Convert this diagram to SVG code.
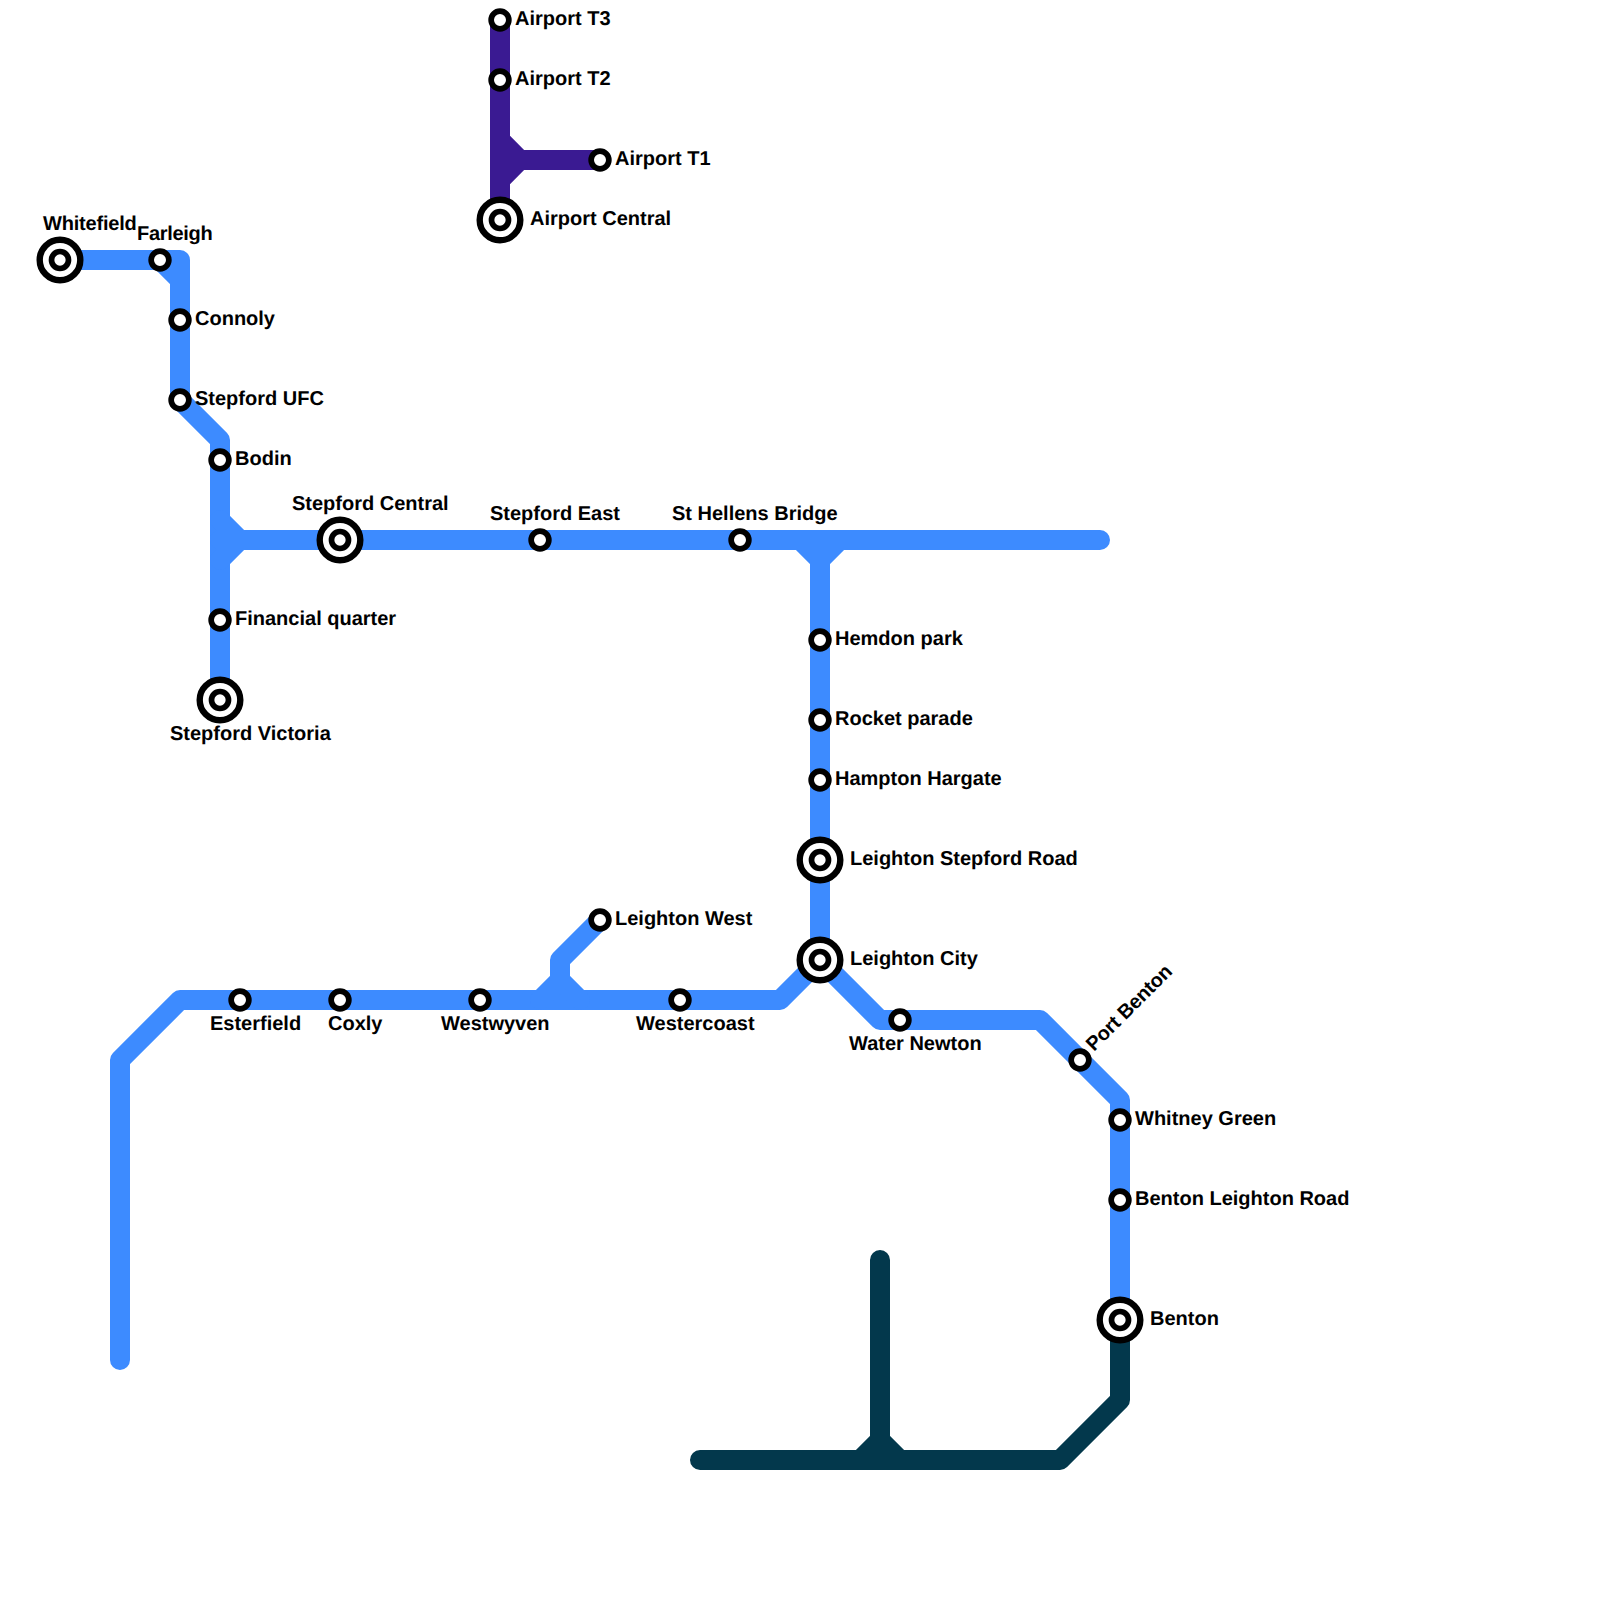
<svg xmlns="http://www.w3.org/2000/svg" width="1600" height="1600" viewBox="0 0 1600 1600">
<style>
.l{fill:none;stroke-width:20;stroke-linecap:round;stroke-linejoin:round}
.b{stroke:#3d8bff}.p{stroke:#3a1a92}.d{stroke:#03384c}
.o{fill:#fff;stroke:#000;stroke-width:5.7}
.r{fill:#fff;stroke:#000;stroke-width:6.4}
text{font-family:"Liberation Sans",Arial,sans-serif;font-weight:700;font-size:20px;fill:#000;text-rendering:geometricPrecision}
</style>
<defs>
<g id="s"><circle class="o" r="8.85"/></g>
<g id="i"><circle class="r" r="20.3"/><circle class="o" r="8.5"/></g>
</defs>
<rect width="1600" height="1600" fill="#fff"/>
<g id="connectors">
<path class="l b" d="M60 260H180V400L220 440V700M160 260L180 280"/>
<path class="l b" d="M220 540H1100M220 520L240 540L220 560M800 540L820 560L840 540M820 560V960"/>
<path class="l b" d="M120 1360V1060L180 1000H780L820 960L880 1020H1040L1120 1100V1320"/>
<path class="l b" d="M600 920L560 960V980M540 1000L560 980L580 1000"/>
<path class="l p" d="M500 20V220M500 140L520 160L500 180M500 160H600"/>
<path class="l d" d="M1120 1320V1400L1060 1460H700M880 1260V1460M860 1460L880 1440L900 1460"/>
</g>
<g id="airport-t3"><use href="#s" x="500" y="20"/><text x="515" y="25">Airport T3</text></g>
<g id="airport-t2"><use href="#s" x="500" y="80"/><text x="515" y="85">Airport T2</text></g>
<g id="airport-t1"><use href="#s" x="600" y="160"/><text x="615" y="165">Airport T1</text></g>
<g id="airport-central"><use href="#i" x="500" y="220"/><text x="530" y="225">Airport Central</text></g>
<g id="whitefield"><use href="#i" x="60" y="260"/><text x="43" y="229.5" letter-spacing="-0.2">Whitefield</text></g>
<g id="farleigh"><use href="#s" x="160" y="260"/><text x="137" y="239.5" letter-spacing="-0.3">Farleigh</text></g>
<g id="connoly"><use href="#s" x="180" y="320"/><text x="195" y="325">Connoly</text></g>
<g id="stepford-ufc"><use href="#s" x="180" y="400"/><text x="195" y="405">Stepford UFC</text></g>
<g id="bodin"><use href="#s" x="220" y="460"/><text x="235" y="465">Bodin</text></g>
<g id="stepford-central"><use href="#i" x="340" y="540"/><text x="292" y="510">Stepford Central</text></g>
<g id="stepford-east"><use href="#s" x="540" y="540"/><text x="490" y="520">Stepford East</text></g>
<g id="st-hellens-bridge"><use href="#s" x="740" y="540"/><text x="672" y="520">St Hellens Bridge</text></g>
<g id="financial-quarter"><use href="#s" x="220" y="620"/><text x="235" y="625">Financial quarter</text></g>
<g id="stepford-victoria"><use href="#i" x="220" y="700"/><text x="170" y="740">Stepford Victoria</text></g>
<g id="hemdon-park"><use href="#s" x="820" y="640"/><text x="835" y="645">Hemdon park</text></g>
<g id="rocket-parade"><use href="#s" x="820" y="720"/><text x="835" y="725">Rocket parade</text></g>
<g id="hampton-hargate"><use href="#s" x="820" y="780"/><text x="835" y="785">Hampton Hargate</text></g>
<g id="leighton-stepford-road"><use href="#i" x="820" y="860"/><text x="850" y="865">Leighton Stepford Road</text></g>
<g id="leighton-city"><use href="#i" x="820" y="960"/><text x="850" y="965">Leighton City</text></g>
<g id="leighton-west"><use href="#s" x="600" y="920"/><text x="615" y="925">Leighton West</text></g>
<g id="esterfield"><use href="#s" x="240" y="1000"/><text x="210" y="1030">Esterfield</text></g>
<g id="coxly"><use href="#s" x="340" y="1000"/><text x="328" y="1030">Coxly</text></g>
<g id="westwyven"><use href="#s" x="480" y="1000"/><text x="441" y="1030">Westwyven</text></g>
<g id="westercoast"><use href="#s" x="680" y="1000"/><text x="636" y="1030">Westercoast</text></g>
<g id="water-newton"><use href="#s" x="900" y="1020"/><text x="849" y="1050">Water Newton</text></g>
<g id="port-benton"><use href="#s" x="1080" y="1060"/><text transform="translate(1094 1052) rotate(-45)" letter-spacing="-0.2">Port Benton</text></g>
<g id="whitney-green"><use href="#s" x="1120" y="1120"/><text x="1135" y="1125">Whitney Green</text></g>
<g id="benton-leighton-road"><use href="#s" x="1120" y="1200"/><text x="1135" y="1205">Benton Leighton Road</text></g>
<g id="benton"><use href="#i" x="1120" y="1320"/><text x="1150" y="1325">Benton</text></g>
</svg>
